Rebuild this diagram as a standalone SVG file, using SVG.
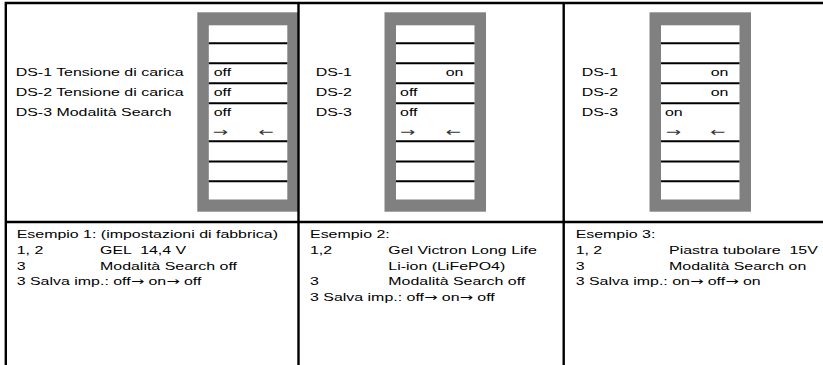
<svg xmlns="http://www.w3.org/2000/svg" width="823" height="365" viewBox="0 0 823 365">
<style>
.t{font-family:"Liberation Sans",Arial,sans-serif;font-size:11px;fill:#000;white-space:pre}
.a{font-family:"DejaVu Sans",sans-serif;font-size:11px}
.la{font-family:"DejaVu Sans",sans-serif;font-size:12.5px;fill:#333}
.frame{fill:#808080}
.inner{fill:#fff}
.rung{stroke:#000;stroke-width:2;fill:none}
.grid{stroke:#000;stroke-width:2.4;fill:none}
</style>
<defs>
<g id="ladder">
<rect class="frame" x="0" y="12.3" width="101.5" height="199.4"/>
<rect class="inner" x="11.5" y="25.3" width="78.5" height="174.2"/>
<path class="rung" d="M11.5 43.3H90M11.5 63.3H90M11.5 83.3H90M11.5 103.3H90M11.5 141.3H90M11.5 161.5H90M11.5 181.3H90"/>
</g>
</defs>
<rect x="0" y="0" width="823" height="365" fill="#fff"/>
<g id="ladder1"><use href="#ladder" x="197.3"/></g>
<g id="ladder2"><use href="#ladder" x="384.5"/></g>
<g id="ladder3"><use href="#ladder" x="649.5"/></g>
<g id="connectors">
<path class="grid" d="M5.8 3H823M5.8 222H823M5.8 1.8V365M298.5 1.8V365M563.7 1.8V365"/>
</g>
<g id="panel1-top" transform="scale(1.45 1)">
<text class="t" x="10.83" y="76">DS-1 Tensione di carica</text>
<text class="t" x="10.83" y="96">DS-2 Tensione di carica</text>
<text class="t" x="10.83" y="116">DS-3 Modalità Search</text>
<text class="t" x="147.4" y="76">off</text>
<text class="t" x="147.4" y="96">off</text>
<text class="t" x="147.4" y="116">off</text>
<text class="t la" x="146.7" y="136.5">→</text>
<text class="t la" x="178.1" y="136.5">←</text>
</g>
<g id="panel2-top" transform="scale(1.45 1)">
<text class="t" x="217.7" y="76">DS-1</text>
<text class="t" x="217.7" y="96">DS-2</text>
<text class="t" x="217.7" y="116">DS-3</text>
<text class="t" x="307.4" y="76">on</text>
<text class="t" x="275.9" y="96">off</text>
<text class="t" x="275.9" y="116">off</text>
<text class="t la" x="275.9" y="136.5">→</text>
<text class="t la" x="307.2" y="136.5">←</text>
</g>
<g id="panel3-top" transform="scale(1.45 1)">
<text class="t" x="401.2" y="76">DS-1</text>
<text class="t" x="401.2" y="96">DS-2</text>
<text class="t" x="401.2" y="116">DS-3</text>
<text class="t" x="490.1" y="76">on</text>
<text class="t" x="490.1" y="96">on</text>
<text class="t" x="458.6" y="116">on</text>
<text class="t la" x="459.1" y="136.5">→</text>
<text class="t la" x="489.7" y="136.5">←</text>
</g>
<g id="example1" transform="scale(1.45 1)">
<text class="t" x="11.52" y="238.3">Esempio 1: (impostazioni di fabbrica)</text>
<text class="t" x="11.52" y="254">1, 2</text>
<text class="t" x="68.97" y="254" xml:space="preserve">GEL  14,4 V</text>
<text class="t" x="11.52" y="269.7">3</text>
<text class="t" x="68.97" y="269.7">Modalità Search off</text>
<text class="t" x="11.52" y="285.3">3 Salva imp.: off<tspan class="a">→</tspan> on<tspan class="a">→</tspan> off</text>
</g>
<g id="example2" transform="scale(1.45 1)">
<text class="t" x="213.8" y="238.3">Esempio 2:</text>
<text class="t" x="213.8" y="254">1,2</text>
<text class="t" x="267.8" y="254">Gel Victron Long Life</text>
<text class="t" x="267.8" y="269.7">Li-ion (LiFePO4)</text>
<text class="t" x="213.8" y="285.3">3</text>
<text class="t" x="267.8" y="285.3">Modalità Search off</text>
<text class="t" x="213.8" y="301">3 Salva imp.: off<tspan class="a">→</tspan> on<tspan class="a">→</tspan> off</text>
</g>
<g id="example3" transform="scale(1.45 1)">
<text class="t" x="397" y="238.3">Esempio 3:</text>
<text class="t" x="397" y="254">1, 2</text>
<text class="t" x="461.4" y="254" xml:space="preserve">Piastra tubolare  15V</text>
<text class="t" x="397" y="269.7">3</text>
<text class="t" x="461.4" y="269.7">Modalità Search on</text>
<text class="t" x="397" y="285.3">3 Salva imp.: on<tspan class="a">→</tspan> off<tspan class="a">→</tspan> on</text>
</g>
</svg>
